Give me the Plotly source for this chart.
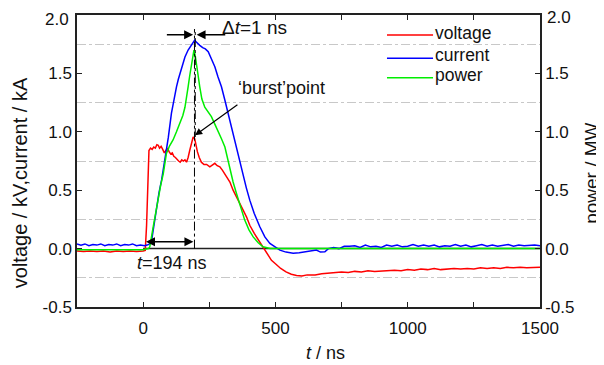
import plotly.graph_objects as go

# ---------------- data ----------------
t_voltage = [-250, -225, -200, -175, -150, -125, -100, -75, -50, -25, 0, 8, 13, 18, 22, 28, 34, 40, 46, 52, 57, 62, 68, 74,
             80, 86, 92, 98, 104, 110, 116, 122, 128, 134, 140, 146, 152, 158, 164, 170, 176, 182, 189, 195, 200, 205,
             212, 220, 230, 240, 252, 262, 271, 280, 290, 300, 315, 328, 340, 352, 365, 378, 391, 403, 420, 440, 455,
             470, 485, 500, 520, 540, 560, 580, 600, 620, 650, 675, 700, 725, 750, 775, 800, 825, 850, 875, 900, 925,
             950, 975, 1000, 1025, 1050, 1075, 1100, 1125, 1150, 1175, 1200, 1225, 1250, 1275, 1300, 1325, 1350, 1375,
             1400, 1425, 1450, 1475, 1500]
voltage = [-0.02, -0.025, -0.02, -0.025, -0.02, -0.03, -0.02, -0.025, -0.02, -0.025, -0.02, -0.015, 0.2, 0.7, 0.84,
           0.86, 0.85, 0.87, 0.86, 0.89, 0.885, 0.86, 0.875, 0.85, 0.82, 0.84, 0.86, 0.83, 0.81, 0.82, 0.79, 0.78,
           0.76, 0.75, 0.74, 0.76, 0.75, 0.76, 0.74, 0.78, 0.84, 0.9, 0.955, 0.94, 0.88, 0.83, 0.78, 0.74, 0.72, 0.72,
           0.7, 0.72, 0.73, 0.71, 0.7, 0.67, 0.615, 0.57, 0.5, 0.45, 0.39, 0.33, 0.27, 0.2, 0.13, 0.06, 0.0, -0.05,
           -0.1, -0.13, -0.17, -0.2, -0.22, -0.23, -0.235, -0.225, -0.225, -0.215, -0.21, -0.205, -0.2, -0.205,
           -0.195, -0.2, -0.19, -0.195, -0.19, -0.185, -0.185, -0.19, -0.18, -0.185, -0.175, -0.18, -0.17, -0.18,
           -0.175, -0.17, -0.175, -0.17, -0.175, -0.165, -0.17, -0.165, -0.17, -0.16, -0.165, -0.16, -0.165, -0.16,
           -0.16]

t_current = [-250, -235, -220, -205, -190, -175, -160, -145, -130, -115, -100, -85, -70, -55, -40, -25, -10, 5, 15, 25,
             32, 40, 50, 60, 70, 80, 88, 95, 107, 116, 126, 133, 139, 148, 158, 170, 183, 190, 195, 200, 207, 214, 225,
             235, 246, 258, 271, 283, 296, 309, 321, 335, 347, 360, 378, 390, 403, 420, 441, 460, 479, 500, 517, 540,
             567, 590, 610, 630, 655, 670, 687, 700, 720, 740, 760, 780, 800, 820, 840, 860, 880, 900, 920, 940, 960,
             980, 1000, 1020, 1040, 1060, 1080, 1100, 1120, 1140, 1160, 1180, 1200, 1220, 1240, 1260, 1280, 1300, 1320,
             1340, 1360, 1380, 1400, 1420, 1440, 1460, 1480, 1500]
current = [0.04, 0.03, 0.04, 0.025, 0.035, 0.03, 0.04, 0.025, 0.035, 0.03, 0.04, 0.025, 0.035, 0.03, 0.04, 0.025, 0.03,
           0.025, 0.03, 0.04, 0.07, 0.2, 0.36, 0.48, 0.59, 0.72, 0.84, 0.95, 1.16, 1.28, 1.385, 1.45, 1.5, 1.57, 1.64,
           1.7, 1.74, 1.76, 1.785, 1.77, 1.75, 1.74, 1.72, 1.71, 1.685, 1.62, 1.557, 1.47, 1.385, 1.27, 1.157, 1.02,
           0.93, 0.8, 0.64, 0.52, 0.415, 0.3, 0.187, 0.1, 0.045, 0.01, -0.013, -0.03, -0.04, -0.035, -0.03, -0.025,
           -0.013, -0.03, -0.027, 0.0, 0.01, 0.0, 0.02, 0.02, 0.025, 0.01, 0.03, 0.015, 0.02, 0.01, 0.03, 0.02, 0.03,
           0.015, 0.02, 0.035, 0.02, 0.03, 0.02, 0.03, 0.015, 0.025, 0.02, 0.035, 0.02, 0.03, 0.015, 0.025, 0.035,
           0.02, 0.03, 0.02, 0.03, 0.035, 0.02, 0.03, 0.025, 0.03, 0.03, 0.025]

t_power = [-250, -200, -150, -100, -50, 0, 20, 25, 38, 48, 57, 66, 76, 88, 100, 113, 126, 139, 150, 158, 165, 170, 176,
           183, 188, 192, 197, 202, 208, 214, 222, 233, 245, 258, 270, 283, 296, 309, 318, 328, 340, 353, 368, 384,
           400, 416, 435, 453, 480, 517, 560, 600, 650, 700, 750, 800, 850, 900, 950, 1000, 1050, 1100, 1150, 1200,
           1250, 1300, 1350, 1400, 1450, 1500]
power = [-0.01, -0.01, -0.01, -0.01, -0.01, -0.01, 0.0, 0.015, 0.187, 0.32, 0.44, 0.54, 0.64, 0.815, 0.88, 0.93, 1.0,
         1.07, 1.14, 1.21, 1.3, 1.385, 1.48, 1.585, 1.66, 1.7, 1.65, 1.585, 1.48, 1.385, 1.28, 1.21, 1.17, 1.13, 1.07,
         1.01, 0.94, 0.87, 0.78, 0.67, 0.57, 0.47, 0.35, 0.244, 0.16, 0.1, 0.05, 0.015, 0.0, 0.0, -0.005, 0.0, -0.005,
         0.0, 0.0, -0.005, 0.0, 0.0, -0.005, 0.0, 0.0, -0.005, 0.0, 0.0, -0.005, 0.0, 0.0, -0.005, 0.0, 0.0]

series_names = ["voltage", "current", "power"]
series_colors = ["#ff0000", "#0000ff", "#00ee00"]
x_ticks = [0, 500, 1000, 1500]
x_minor_ticks = [250, 750, 1250]
y_ticks = [-0.5, 0.0, 0.5, 1.0, 1.5, 2.0]
y_tick_labels = ["-0.5", "0.0", "0.5", "1.0", "1.5", ""]   # top label "2.0" is placed separately (see below)
y_top_label = "2.0"
y_grid = [-0.25, 0.25, 0.75, 1.25, 1.75]

burst_t = 194         # ns, 'burst' point time
burst_v = 0.955       # kV, voltage at 'burst' point

# ---------------- figure ----------------
FONT = "Liberation Sans, Arial, sans-serif"
FS = 18
INK = "#111"
fig = go.Figure()
fig.add_trace(go.Scatter(x=t_voltage, y=voltage, name=series_names[0], mode="lines",
                         line=dict(color=series_colors[0], width=1.5)))
fig.add_trace(go.Scatter(x=t_current, y=current, name=series_names[1], mode="lines",
                         line=dict(color=series_colors[1], width=1.5)))
fig.add_trace(go.Scatter(x=t_power, y=power, name=series_names[2], mode="lines", yaxis="y2",
                         line=dict(color=series_colors[2], width=1.5)))

# compact legend (line sample + label), at the top right of the plot area
legend_line_y = [0.9315, 0.852, 0.785]     # paper fractions
legend_text_y = [0.937, 0.862, 0.795]
for name, color, ly, ty in zip(series_names, series_colors, legend_line_y, legend_text_y):
    fig.add_shape(type="line", xref="paper", yref="paper", x0=0.6695, x1=0.769, y0=ly, y1=ly,
                  line=dict(color=color, width=1.5))
    fig.add_annotation(x=0.769, y=ty, xref="paper", yref="paper", xanchor="left", yanchor="middle",
                       showarrow=False, text=name, font=dict(family=FONT, size=17.5, color=INK))

# zero reference line and marker lines at the burst time
fig.add_shape(type="line", xref="x", yref="y", x0=0, x1=1500, y0=0, y1=0,
              line=dict(color="#222", width=1.5), layer="below")
fig.add_shape(type="line", xref="x", yref="y", x0=burst_t, x1=burst_t, y0=0, y1=1.88,
              line=dict(color="black", width=1, dash="dashdot"))
fig.add_shape(type="line", xref="x", yref="y", x0=burst_t + 3, x1=burst_t + 3, y0=burst_v, y1=1.88,
              line=dict(color="black", width=1, dash="dashdot"))

ann_font = dict(family=FONT, size=FS, color=INK)
# Δt arrows
fig.add_annotation(x=burst_t - 5, y=1.83, ax=burst_t - 110, ay=1.83, xref="x", yref="y", axref="x", ayref="y",
                   showarrow=True, arrowhead=2, arrowsize=1.2, arrowwidth=1.5, arrowcolor="black", text="")
fig.add_annotation(x=burst_t + 8, y=1.83, ax=burst_t + 122, ay=1.83, xref="x", yref="y", axref="x", ayref="y",
                   showarrow=True, arrowhead=2, arrowsize=1.2, arrowwidth=1.5, arrowcolor="black", text="")
fig.add_annotation(x=289, y=1.895, xref="x", yref="y", xanchor="left", yanchor="middle", showarrow=False,
                   text="Δ<i>t</i>=1 ns", font=dict(family=FONT, size=19, color=INK))
# burst point
fig.add_annotation(x=352, y=1.375, xref="x", yref="y", xanchor="left", yanchor="middle", showarrow=False,
                   text="‘burst’point", font=ann_font)
fig.add_annotation(x=burst_t + 2, y=burst_v + 0.015, ax=362, ay=1.24, xref="x", yref="y", axref="x", ayref="y",
                   showarrow=True, arrowhead=2, arrowsize=1.2, arrowwidth=1.2, arrowcolor="black", text="")
# t = 194 ns
fig.add_annotation(x=burst_t - 4, y=0.058, ax=5, ay=0.058, xref="x", yref="y", axref="x", ayref="y",
                   showarrow=True, arrowhead=2, arrowside="end+start", arrowsize=1.2, arrowwidth=1.5,
                   arrowcolor="black", text="")
fig.add_annotation(x=109, y=-0.124, xref="x", yref="y", xanchor="center", yanchor="middle", showarrow=False,
                   text="<i>t</i>=194 ns", font=ann_font)

# axis titles placed as in the reference
fig.add_annotation(x=-0.124, y=0.426, xref="paper", yref="paper", xanchor="center", yanchor="middle",
                   showarrow=False, textangle=-90, text="voltage / kV,current / kA",
                   font=dict(family=FONT, size=20, color=INK))
fig.add_annotation(x=1.112, y=0.459, xref="paper", yref="paper", xanchor="center", yanchor="middle",
                   showarrow=False, textangle=-90, text="power / MW", font=dict(family=FONT, size=19, color=INK))
fig.add_annotation(x=0.536, y=-0.158, xref="paper", yref="paper", xanchor="center", yanchor="middle",
                   showarrow=False, text="<i>t</i> / ns", font=dict(family=FONT, size=18, color=INK))

tick_font = dict(family=FONT, size=17, color=INK)
# top "2.0" labels, nudged down like in the reference so they stay inside the page
fig.add_annotation(x=-0.014, y=0.983, xref="paper", yref="paper", xanchor="right", yanchor="middle",
                   showarrow=False, text=y_top_label, font=tick_font)
fig.add_annotation(x=1.011, y=0.993, xref="paper", yref="paper", xanchor="left", yanchor="middle",
                   showarrow=False, text=y_top_label, font=tick_font)

# the page body adds an 8 px offset: figure is sized so that the plot sits where the reference's does
fig.update_layout(
    width=596, height=357,
    margin=dict(l=69, r=64, t=7, b=58),
    paper_bgcolor="white", plot_bgcolor="white",
    font=dict(family=FONT, size=FS, color=INK),
    showlegend=False,
    xaxis=dict(range=[-250, 1500], tickvals=x_ticks, ticks="inside", ticklen=5, tickwidth=1.2,
               showline=True, linecolor="#222", linewidth=1.5, mirror="ticks", showgrid=False, zeroline=False,
               minor=dict(tickvals=x_minor_ticks, ticks="inside", ticklen=5, tickwidth=1.2, tickcolor="#222",
                          showgrid=False),
               tickcolor="#222", tickfont=tick_font, automargin=False, ticklabelstandoff=5),
    yaxis=dict(range=[-0.5, 2.0], tickvals=y_ticks, ticktext=y_tick_labels, ticks="inside", ticklen=5,
               tickwidth=1.2, tickcolor="#222", showline=True, linecolor="#222", linewidth=1.5, mirror=True,
               showgrid=False, zeroline=False, automargin=False,
               minor=dict(tickvals=y_grid, showgrid=True, gridcolor="#c8c8c8", griddash="dashdot", gridwidth=1,
                          ticks=""),
               tickfont=tick_font),
    yaxis2=dict(range=[-0.5, 2.0], tickvals=y_ticks, ticktext=y_tick_labels, ticks="inside", ticklen=5,
                tickwidth=1.2, tickcolor="#222", overlaying="y", side="right", showline=True, linecolor="#222",
                linewidth=1.5, showgrid=False, zeroline=False, tickfont=tick_font, automargin=False),
)

fig.write_html("out.html")
